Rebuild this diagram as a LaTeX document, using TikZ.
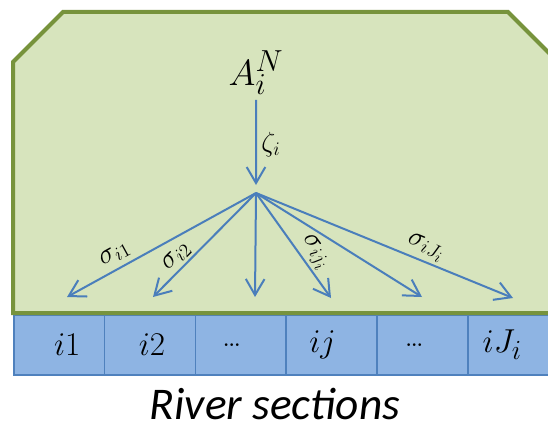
\RequirePackage{fix-cm}
\documentclass[tikz,border=0pt]{standalone}
\usepackage{fontspec}
\newfontfamily\captionfont{Carlito}
\usetikzlibrary{arrows.meta}
\definecolor{basingreen}{HTML}{D7E4BD}
\definecolor{basinedge}{HTML}{77933C}
\definecolor{sectionblue}{HTML}{8EB4E3}
\definecolor{sectionedge}{HTML}{4F81BD}
\definecolor{flowblue}{HTML}{4A7EBB}

\begin{document}
\begin{tikzpicture}[x=0.75pt, y=-0.75pt, >={Straight Barb[length=12pt, width=14pt]},
    flow/.style={->, flowblue, line width=1.5pt},
    share/.style={sloped, above, text=black, inner sep=2pt, font=\huge},
    section/.style={draw=sectionedge, fill=sectionblue, line width=1.2pt,
      minimum width=68.1pt, minimum height=45pt, inner sep=0pt, anchor=north west},
    seclabel/.style={font=\Huge, inner sep=1pt}]
  \def\cw{90.8}    % section width (px)
  \def\top{314}    % top of the section strip

  \useasboundingbox (0,0) rectangle (548,428);
  \clip (0,0) rectangle (548,428);

  % river sections
  \foreach \k/\lab/\dx in {1/{$i1$}/8, 2/{$i2$}/2, 3/{\dots}/-9,
                           4/{$ij$}/-9, 5/{\dots}/-8, 6/{$iJ_i$}/-11} {
    \node[section] (c\k) at ({13+(\k-1)*\cw}, \top) {};
    \node[seclabel] (l\k) at ([xshift=\dx*0.75pt]c\k.center) {\lab};
  }

  % catchment area
  \draw[basinedge, fill=basingreen, line width=3pt]
    (13,62) -- (63,12) -- (508,12) -- (560,64) -- (560,313) -- (13,313) -- cycle;

  % inflow and its split
  \node[inner sep=1pt, anchor=base, font=\Huge, scale=1.1] (src) at (256,85) {$A_i^N$};
  \coordinate (hub) at (256,193);
  \coordinate (t1) at (67,297);
  \coordinate (t2) at (153,297);
  \coordinate (t3) at (255,297);
  \coordinate (t4) at (331,298);
  \coordinate (t5) at (422,297);
  \coordinate (t6) at (513,298);

  \draw[flow, shorten <=3pt, shorten >=6pt] (src) -- node[right, text=black, font=\huge] (zeta) {$\zeta_i$} (hub);

  \draw[flow] (hub) -- node[share, pos=.71, yshift=2pt] (s1) {$\sigma_{i1}$} (t1);
  \draw[flow] (hub) -- node[share, pos=.69] (s2) {$\sigma_{i2}$} (t2);
  \draw[flow] (hub) -- (t3);
  \draw[flow] (hub) -- node[share, pos=.64] (s4) {$\sigma_{ij_i}$} (t4);
  \draw[flow] (hub) -- (t5);
  \draw[flow] (hub) -- node[share, pos=.64] (s6) {$\sigma_{iJ_i}$} (t6);

  \node[anchor=base, inner sep=1pt, font=\captionfont\itshape\fontsize{34}{40}\selectfont] (caption) at (275,419) {River sections};
\end{tikzpicture}
\end{document}
